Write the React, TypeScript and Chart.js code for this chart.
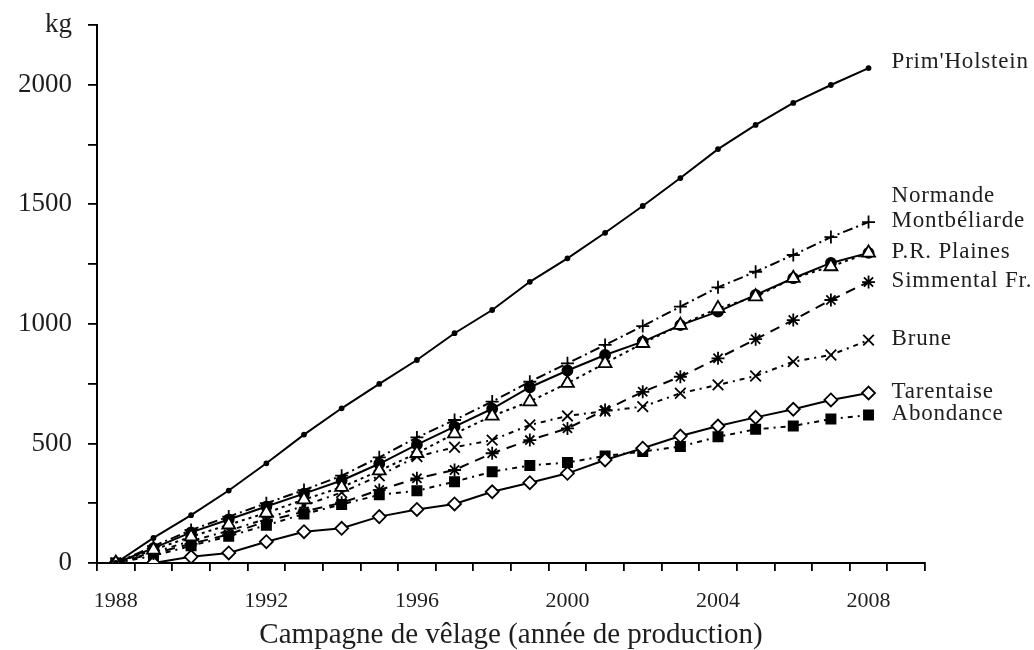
import React, { useEffect, useRef } from 'react';
import { Chart, registerables } from 'chart.js';

Chart.register(...registerables);

const FONT = '"Liberation Serif", "Times New Roman", serif';

// Categories: campaign years (last one empty, as in the reference axis)
const years = ['1988', '1989', '1990', '1991', '1992', '1993', '1994', '1995', '1996', '1997', '1998', '1999', '2000', '2001', '2002', '2003', '2004', '2005', '2006', '2007', '2008', '2009'];

// Series values (kg), 1988 .. 2008
const primHolstein = [0, 105, 200, 303, 417, 537, 647, 749, 849, 961, 1058, 1176, 1274, 1381, 1493, 1610, 1731, 1832, 1924, 1999, 2070];
const normande = [0, 55, 110, 160, 210, 265, 317, 386, 459, 541, 615, 675, 752, 835, 919, 995, 1065, 1114, 1191, 1240, 1297];
const montbeliarde = [0, 70, 138, 194, 250, 305, 365, 442, 525, 598, 675, 758, 835, 912, 991, 1072, 1153, 1218, 1288, 1363, 1426];
const prPlaines = [0, 62, 128, 182, 236, 290, 345, 415, 495, 570, 645, 735, 805, 870, 926, 995, 1051, 1121, 1191, 1255, 1297];
const simmental = [0, 40, 80, 120, 175, 215, 252, 305, 354, 389, 459, 514, 563, 640, 716, 779, 856, 936, 1016, 1100, 1175];
const brune = [0, 45, 92, 135, 185, 240, 295, 365, 445, 484, 514, 577, 615, 635, 654, 710, 745, 782, 842, 870, 932];
const tarentaise = [0, 0, 26, 42, 89, 131, 145, 194, 224, 247, 298, 336, 375, 431, 480, 531, 573, 609, 643, 682, 711];
const abondance = [0, 30, 72, 112, 158, 205, 245, 285, 302, 340, 382, 408, 420, 448, 466, 487, 528, 559, 573, 602, 619];

// Y tick labels
const yMax = 2250;
const yStep = 250;
const yLabelEvery = 500;
const yUnit = 'kg';
const xTitle = 'Campagne de vêlage (année de production)';

const endLabelPlugin = {
  id: 'endLabels',
  afterDatasetsDraw(chart: any, _args: any, opts: any) {
    const ctx = chart.ctx as CanvasRenderingContext2D;
    ctx.save();
    ctx.font = opts.font;
    (ctx as any).letterSpacing = opts.letterSpacing;
    ctx.fillStyle = opts.color;
    ctx.textBaseline = 'middle';
    ctx.textAlign = 'left';
    chart.data.datasets.forEach((ds: any, i: number) => {
      const meta = chart.getDatasetMeta(i);
      const pts = meta.data.filter((p: any) => !p.skip);
      const last = pts[pts.length - 1];
      if (!last) return;
      const shift = (opts.shifts && opts.shifts[ds.label]) || 0;
      ctx.fillText(ds.label, last.x + opts.gap, last.y + opts.dy + shift);
    });
    (ctx as any).letterSpacing = '0px';
    ctx.restore();
  },
};

function mk(label: string, data: number[], pointStyle: string, radius: number, filled: boolean, dash: number[]) {
  return {
    label,
    data,
    borderColor: '#000',
    borderWidth: 2,
    borderDash: dash,
    pointStyle,
    pointRadius: radius,
    pointHoverRadius: radius,
    pointBackgroundColor: filled ? '#000' : '#fff',
    pointBorderColor: '#000',
    pointBorderWidth: 1.8,
    fill: false,
    tension: 0,
  };
}

export default function App() {
  const ref = useRef<HTMLCanvasElement>(null);

  useEffect(() => {
    if (!ref.current) return;
    const chart = new Chart(ref.current, {
      type: 'line',
      data: {
        labels: years,
        datasets: [
          mk("Prim'Holstein", primHolstein, 'circle', 2, true, []),
          mk('Normande', normande, 'triangle', 7.5, false, [3, 4]),
          mk('Montbéliarde', montbeliarde, 'cross', 6.5, false, [10, 4, 2, 4]),
          mk('P.R. Plaines', prPlaines, 'circle', 5, true, []),
          mk('Simmental Fr.', simmental, 'star', 6.5, false, [10, 7]),
          mk('Brune', brune, 'crossRot', 7.5, false, [2, 5, 5, 5]),
          mk('Tarentaise', tarentaise, 'rectRot', 6.5, false, []),
          mk('Abondance', abondance, 'rect', 6.5, true, [5, 5, 2, 5]),
        ] as any,
      },
      plugins: [endLabelPlugin],
      options: {
        animation: false,
        responsive: true,
        maintainAspectRatio: false,
        layout: { padding: { top: 25, right: 109, left: 0, bottom: 0 } },
        plugins: {
          legend: { display: false },
          tooltip: { enabled: false },
          endLabels: {
            font: `23px ${FONT}`,
            letterSpacing: '0.8px',
            color: '#1e1e1e',
            gap: 23,
            dy: -1,
            shifts: { "Prim'Holstein": -5, Normande: -56 },
          },
        } as any,
        scales: {
          x: {
            type: 'category',
            offset: true,
            grid: {
              offset: true,
              drawOnChartArea: false,
              drawTicks: true,
              tickLength: 8,
              color: '#000',
              lineWidth: 1.8,
            },
            border: { color: '#000', width: 2 },
            ticks: {
              autoSkip: false,
              maxRotation: 0,
              padding: 17,
              color: '#1e1e1e',
              font: { family: FONT, size: 22 },
              callback: (_v: any, i: number) => {
                const y = Number(years[i]);
                return y % 4 === 0 && i < primHolstein.length ? years[i] : '';
              },
            },
            title: {
              display: true,
              text: xTitle,
              color: '#1e1e1e',
              font: { family: FONT, size: 29, lineHeight: 1.0 },
              padding: { top: 0, bottom: 0 },
            },
            afterFit: (s: any) => {
              s.height = 87;
              s.paddingLeft = 0;
              s.paddingRight = 0;
            },
          } as any,
          y: {
            type: 'linear',
            min: 0,
            max: yMax,
            grid: {
              drawOnChartArea: false,
              drawTicks: true,
              tickLength: 9,
              color: '#000',
              lineWidth: 1.8,
            },
            border: { color: '#000', width: 2 },
            ticks: {
              stepSize: yStep,
              autoSkip: false,
              padding: 16,
              color: '#1e1e1e',
              font: { family: FONT, size: 27 },
              callback: (v: any) => (v === yMax ? yUnit : v % yLabelEvery === 0 ? String(v) : ''),
            },
            afterFit: (s: any) => {
              s.width = 97;
              s.paddingTop = 0;
              s.paddingBottom = 0;
            },
          } as any,
        },
      },
    });
    return () => chart.destroy();
  }, []);

  return (
    <div style={{ position: 'fixed', left: 0, top: 0, width: 1034, height: 650, background: '#fff' }}>
      <canvas ref={ref} />
    </div>
  );
}
